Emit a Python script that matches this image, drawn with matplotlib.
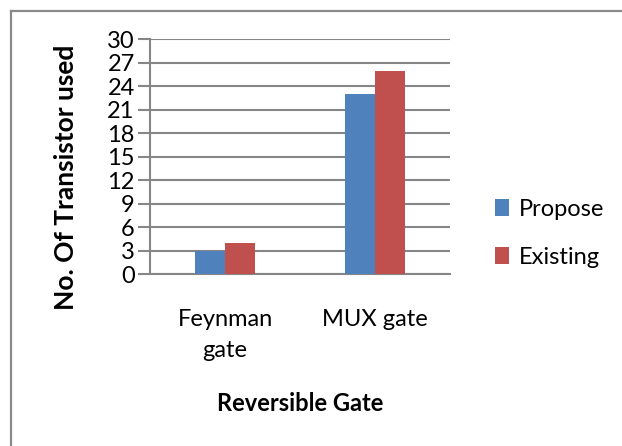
import numpy as np
import matplotlib.pyplot as plt
from matplotlib.lines import Line2D

# chart data
categories = ["Feynman\ngate", "MUX gate"]
propose = [3, 23]
existing = [4, 26]
series_names = ["Propose", "Existing"]
y_ticks = [0, 3, 6, 9, 12, 15, 18, 21, 24, 27, 30]

plt.rcParams['font.family'] = ['Lato', 'DejaVu Sans']

fig = plt.figure(figsize=(6.22, 4.46), dpi=100)
ax = fig.add_axes([150 / 622, 1 - 274.3 / 446, 300 / 622, 235 / 446])

# outer chart border: only its left and top sides fall inside the image
bx = 11 / 622
by = 1 - 10.5 / 446
fig.add_artist(Line2D([bx, bx], [-0.05, by], transform=fig.transFigure,
                      color="#8a8a8a", linewidth=1.6))
fig.add_artist(Line2D([bx, 1.05], [by, by], transform=fig.transFigure,
                      color="#8a8a8a", linewidth=1.6))

x = np.arange(len(categories))
w = 0.2
ax.bar(x - w / 2, propose, w, color="#4F81BD", label=series_names[0], zorder=3)
ax.bar(x + w / 2, existing, w, color="#C0504D", label=series_names[1], zorder=3)

ax.set_xlim(-0.5, 1.5)
ax.set_ylim(0, 30)
ax.set_yticks(y_ticks)
ax.set_xticks(x)
ax.set_xticklabels(categories, fontsize=17, linespacing=1.6)
ax.tick_params(axis="y", labelsize=17, length=9, width=1.5, color="#868686", pad=2)
ax.tick_params(axis="x", length=0, pad=25)

ax.grid(axis="y", color="#868686", linewidth=1.5, zorder=0)
for s in ["top", "right"]:
    ax.spines[s].set_visible(False)
ax.spines["left"].set_color("#868686")
ax.spines["left"].set_linewidth(1.5)
ax.spines["bottom"].set_color("#868686")
ax.spines["bottom"].set_linewidth(1.5)

ax.set_ylabel("No. Of Transistor used", fontsize=19, fontweight="bold")
ax.yaxis.set_label_coords(-0.24, 0.414)
ax.set_xlabel("Reversible Gate", fontsize=17, fontweight="bold", labelpad=22)

ax.legend(loc="center left", bbox_to_anchor=(1.08, 0.175), frameon=False,
          fontsize=17, handlelength=0.6, handleheight=0.7, handletextpad=0.4,
          labelspacing=1.15)

fig.savefig("out.png", dpi=100)
